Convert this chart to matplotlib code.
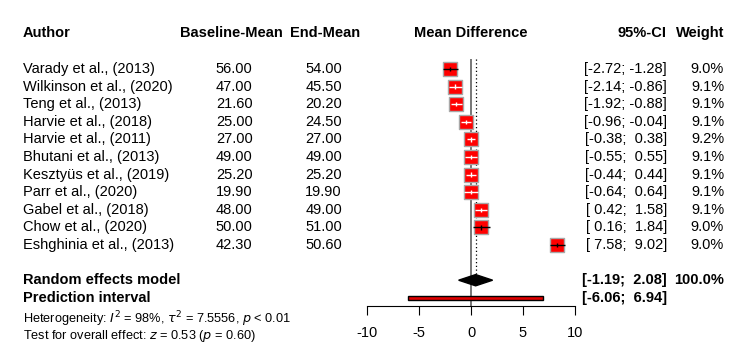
import numpy as np
import matplotlib.pyplot as plt
import matplotlib.transforms as mtransforms
from matplotlib.patches import Polygon, Rectangle

plt.rcParams['font.family'] = ['Liberation Sans', 'DejaVu Sans']

## dados dos estudos
autores = ['Varady et al., (2013)', 'Wilkinson et al., (2020)', 'Teng et al., (2013)',
           'Harvie et al., (2018)', 'Harvie et al., (2011)', 'Bhutani et al., (2013)',
           'Kesztyüs et al., (2019)', 'Parr et al., (2020)', 'Gabel et al., (2018)',
           'Chow et al., (2020)', 'Eshghinia et al., (2013)']
baseline = [56.00, 47.00, 21.60, 25.00, 27.00, 49.00, 25.20, 19.90, 48.00, 50.00, 42.30]
fim = [54.00, 45.50, 20.20, 24.50, 27.00, 49.00, 25.20, 19.90, 49.00, 51.00, 50.60]
md = [-2.00, -1.50, -1.40, -0.50, 0.00, 0.00, 0.00, 0.00, 1.00, 1.00, 8.30]
ci_lo = [-2.72, -2.14, -1.92, -0.96, -0.38, -0.55, -0.44, -0.64, 0.42, 0.16, 7.58]
ci_hi = [-1.28, -0.86, -0.88, -0.04, 0.38, 0.55, 0.44, 0.64, 1.58, 1.84, 9.02]
peso = [9.0, 9.1, 9.1, 9.1, 9.2, 9.1, 9.1, 9.1, 9.1, 9.0, 9.0]

## modelo de efeitos aleatorios e intervalo de predicao
re_md = 0.445
re_lo, re_hi = -1.19, 2.08
pi_lo, pi_hi = -6.06, 6.94
xticks = [-10, -5, 0, 5, 10]

W, H = 750, 358
fig = plt.figure(figsize=(W / 100, H / 100), dpi=100)
ax = fig.add_axes([367 / W, 0, 208 / W, 1])
ax.set_xlim(-10, 10)
# linhas: 17.6 px por linha, primeira linha em y=69 px
ax.set_ylim((H - 69) / 17.6, -69 / 17.6)
for s in ['top', 'left', 'right']:
    ax.spines[s].set_visible(False)
ax.spines['bottom'].set_position(('data', 13.45))
ax.set_yticks([])
ax.set_xticks(xticks)
ax.set_xticklabels([str(t) for t in xticks])
ax.tick_params(axis='x', length=6.5, width=0.8, labelsize=10.5, pad=8)
ax.patch.set_visible(False)

n = len(autores)
rows = np.arange(n)

# linhas de referencia
ax.vlines(0, -0.55, 13.45, color='#606060', lw=1.2, zorder=1)
ax.vlines(re_md, -0.55, 11.65, color='black', lw=0.9, linestyles=(0, (1, 2)), zorder=1)

# quadrados (tamanho proporcional ao peso)
half = 7 / 10.4
for i in range(n):
    ax.scatter(md[i], i, s=101 * peso[i] / 9.1, marker='s', color='red',
               edgecolors='#a8a8a8', linewidths=1.0, zorder=3)
    cor = 'black' if (ci_hi[i] - ci_lo[i]) / 2 > half else 'white'
    ax.hlines(i, ci_lo[i], ci_hi[i], color=cor, lw=1.0, zorder=4)
    ax.vlines(md[i], i - 0.13, i + 0.13, color=cor, lw=1.0, zorder=4)

# diamante
ax.add_patch(Polygon([(re_lo, 12), (re_md, 12 - 0.32), (re_hi, 12), (re_md, 12 + 0.32)],
                     closed=True, facecolor='black', edgecolor='black', zorder=3))
# intervalo de predicao
ax.add_patch(Rectangle((pi_lo, 13 - 0.11), pi_hi - pi_lo, 0.22, facecolor='#e00000',
                       edgecolor='black', lw=1.0, zorder=3))

tr = mtransforms.blended_transform_factory(fig.transFigure, ax.transData)
fs = 10.5


def px(x):
    return x / W


# cabecalho
hy = -2.05
fig.text(px(22.7), hy, 'Author', transform=tr, fontsize=fs, weight='bold', va='center')
fig.text(px(180), hy, 'Baseline-Mean', transform=tr, fontsize=fs, weight='bold', va='center')
fig.text(px(290), hy, 'End-Mean', transform=tr, fontsize=fs, weight='bold', va='center')
fig.text(px(471), hy, 'Mean Difference', transform=tr, fontsize=fs, weight='bold',
         va='center', ha='center')
fig.text(px(667), hy, '95%-CI', transform=tr, fontsize=fs, weight='bold', va='center', ha='right')
fig.text(px(724), hy, 'Weight', transform=tr, fontsize=fs, weight='bold', va='center', ha='right')

for i in range(n):
    fig.text(px(22.7), i, autores[i], transform=tr, fontsize=fs, va='center')
    fig.text(px(252.7), i, '%.2f' % baseline[i], transform=tr, fontsize=fs, va='center', ha='right')
    fig.text(px(342), i, '%.2f' % fim[i], transform=tr, fontsize=fs, va='center', ha='right')
    fig.text(px(667), i, '[%5.2f; %5.2f]' % (ci_lo[i], ci_hi[i]), transform=tr, fontsize=fs,
             va='center', ha='right')
    fig.text(px(724), i, '%.1f%%' % peso[i], transform=tr, fontsize=fs, va='center', ha='right')

fig.text(px(22.7), 12, 'Random effects model', transform=tr, fontsize=fs, weight='bold', va='center')
fig.text(px(667), 12, '[%5.2f; %5.2f]' % (re_lo, re_hi), transform=tr, fontsize=fs,
         weight='bold', va='center', ha='right')
fig.text(px(724), 12, '100.0%', transform=tr, fontsize=fs, weight='bold', va='center', ha='right')
fig.text(px(22.7), 13, 'Prediction interval', transform=tr, fontsize=fs, weight='bold', va='center')
fig.text(px(667), 13, '[%5.2f; %5.2f]' % (pi_lo, pi_hi), transform=tr, fontsize=fs,
         weight='bold', va='center', ha='right')

fs2 = 9.2
fig.text(px(22.7), 14.45, r'Heterogeneity: $\mathit{I}^2$ = 98%, $\tau^2$ = 7.5556, $\mathit{p}$ < 0.01',
         transform=tr, fontsize=fs2, va='baseline')
fig.text(px(22.7), 15.35, r'Test for overall effect: $\mathit{z}$ = 0.53 ($\mathit{p}$ = 0.60)',
         transform=tr, fontsize=fs2, va='baseline')

fig.savefig('out.png', dpi=100)
